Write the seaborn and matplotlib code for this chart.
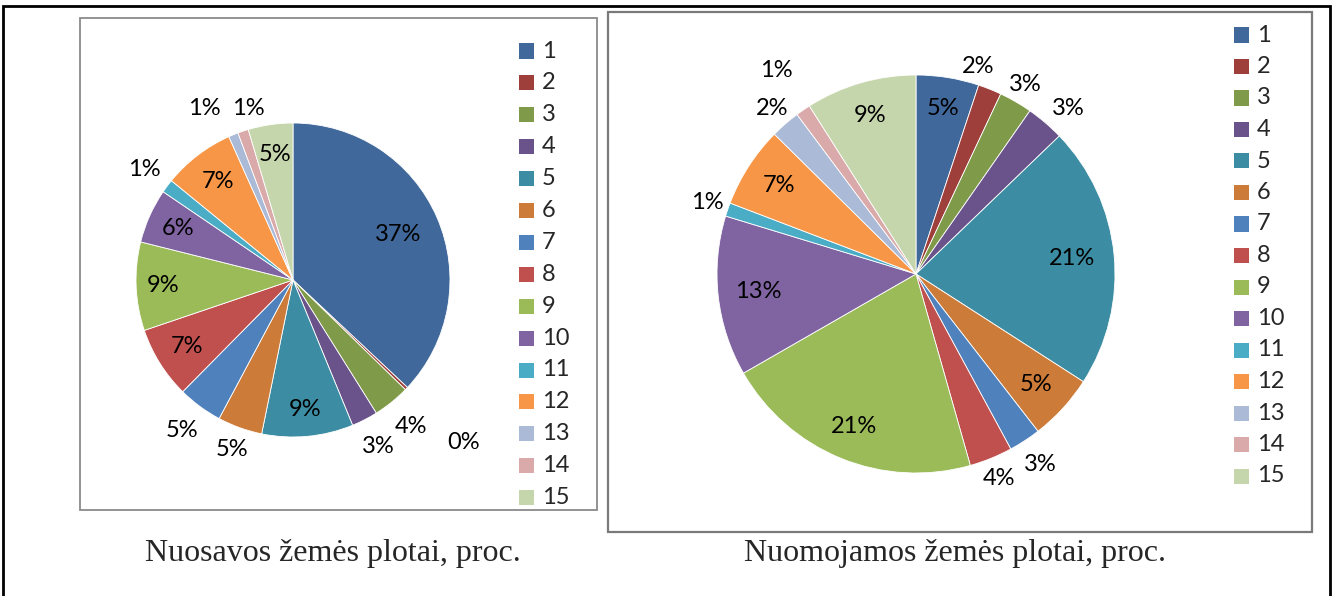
import numpy as np
import matplotlib
matplotlib.use('Agg')
import matplotlib.pyplot as plt
from matplotlib.patches import Rectangle
import seaborn as sns

# data
categories = [str(i) for i in range(1, 16)]
own_share = [37.0, 0.3, 3.8, 2.7, 9.4, 4.6, 4.6, 7.4, 9.1, 5.6, 1.4, 7.4, 1.0, 1.1, 4.6]
rent_share = [5.1, 1.9, 2.7, 3.1, 21.3, 5.4, 2.6, 3.5, 21.1, 13.0, 1.1, 6.6, 2.4, 1.2, 9.0]
own_title = 'Nuosavos žemės plotai, proc.'
rent_title = 'Nuomojamos žemės plotai, proc.'

colors = ['#41689A', '#9E3F3C', '#7F9A48', '#69538A', '#3C8DA3', '#CC7B38',
          '#4F81BD', '#C0504D', '#9BBB59', '#8064A2', '#4BACC6', '#F79646',
          '#AABAD7', '#D9AAA9', '#C6D6AC']

# label distances from centre (fraction of radius), Excel "best fit" look
own_label_r = [0.73, 1.5, 1.2, 1.19, 0.83, 1.15, 1.19, 0.8, 0.83, 0.8, 1.18, 0.79, 1.23, 1.13, 0.81]
rent_label_r = [0.84, 1.09, 1.1, 1.13, 0.79, 0.82, 1.14, 1.11, 0.83, 0.8, 1.11, 0.82, 1.1, 1.24, 0.83]
# small angular nudges (deg) where neighbouring labels collide
own_label_dth = {12: 5, 13: -4}
rent_label_dth = {1: 5, 3: -2}

sns.set_theme(style='white')
plt.rcParams['font.family'] = ['Lato', 'DejaVu Sans']

W, H = 1333, 596
fig = plt.figure(figsize=(W / 100, H / 100), dpi=100)
palette = sns.color_palette(colors)
FS = 17


def px_rect(x0, y0, x1, y1):
    # pixel box (top-left origin) -> figure fraction
    return [x0 / W, 1 - y1 / H, (x1 - x0) / W, (y1 - y0) / H]


def draw_pie(cx, cy, R, values, label_r, label_dth, leg_x, leg_y, leg_pitch):
    k = 1.6
    ax = fig.add_axes(px_rect(cx - k * R, cy - k * R, cx + k * R, cy + k * R))
    ax.set_facecolor('none')
    wedges, _, autotexts = ax.pie(values, colors=palette, startangle=90, counterclock=False,
                                  autopct='%.0f%%', radius=1,
                                  wedgeprops=dict(linewidth=0.6, edgecolor='white'),
                                  textprops=dict(fontsize=FS, color='black'))
    for i, (w, t, r) in enumerate(zip(wedges, autotexts, label_r)):
        th = np.deg2rad((w.theta1 + w.theta2) / 2 + label_dth.get(i, 0))
        t.set_position((r * np.cos(th), r * np.sin(th)))
        t.set_ha('center')
        t.set_va('center')
    ax.set_xlim(-k, k)
    ax.set_ylim(-k, k)
    ax.set_aspect('equal')
    ax.axis('off')
    # legend
    for i, (lab, c) in enumerate(zip(categories, palette)):
        y = leg_y + i * leg_pitch
        fig.patches.append(Rectangle(((leg_x) / W, 1 - (y + 7.5) / H), 15 / W, 15 / H,
                                     transform=fig.transFigure, facecolor=c, edgecolor='none'))
        fig.text((leg_x + 23) / W, 1 - y / H, lab, fontsize=FS, va='center', ha='left')
    return ax


# frames
fig.patches.append(Rectangle(px_rect(3, 6, 1330, 620)[:2], (1327) / W, 614 / H,
                             transform=fig.transFigure, fill=False, edgecolor='black', linewidth=2))
fig.patches.append(Rectangle(px_rect(80, 18, 597, 510)[:2], 517 / W, 492 / H,
                             transform=fig.transFigure, fill=False, edgecolor='#8a8a8a', linewidth=1.3))
fig.patches.append(Rectangle(px_rect(608, 12, 1312, 532)[:2], 704 / W, 520 / H,
                             transform=fig.transFigure, fill=False, edgecolor='#7a7a7a', linewidth=1.6))

draw_pie(293, 280, 157, own_share, own_label_r, own_label_dth, 519, 51, 31.9)
draw_pie(916, 274, 199, rent_share, rent_label_r, rent_label_dth, 1234, 35, 31.5)

fig.text(333 / W, 1 - 553 / H, own_title, fontsize=23, family='Liberation Serif', ha='center', va='center')
fig.text(955 / W, 1 - 553 / H, rent_title, fontsize=23, family='Liberation Serif', ha='center', va='center')

fig.savefig('out.png', dpi=100)
